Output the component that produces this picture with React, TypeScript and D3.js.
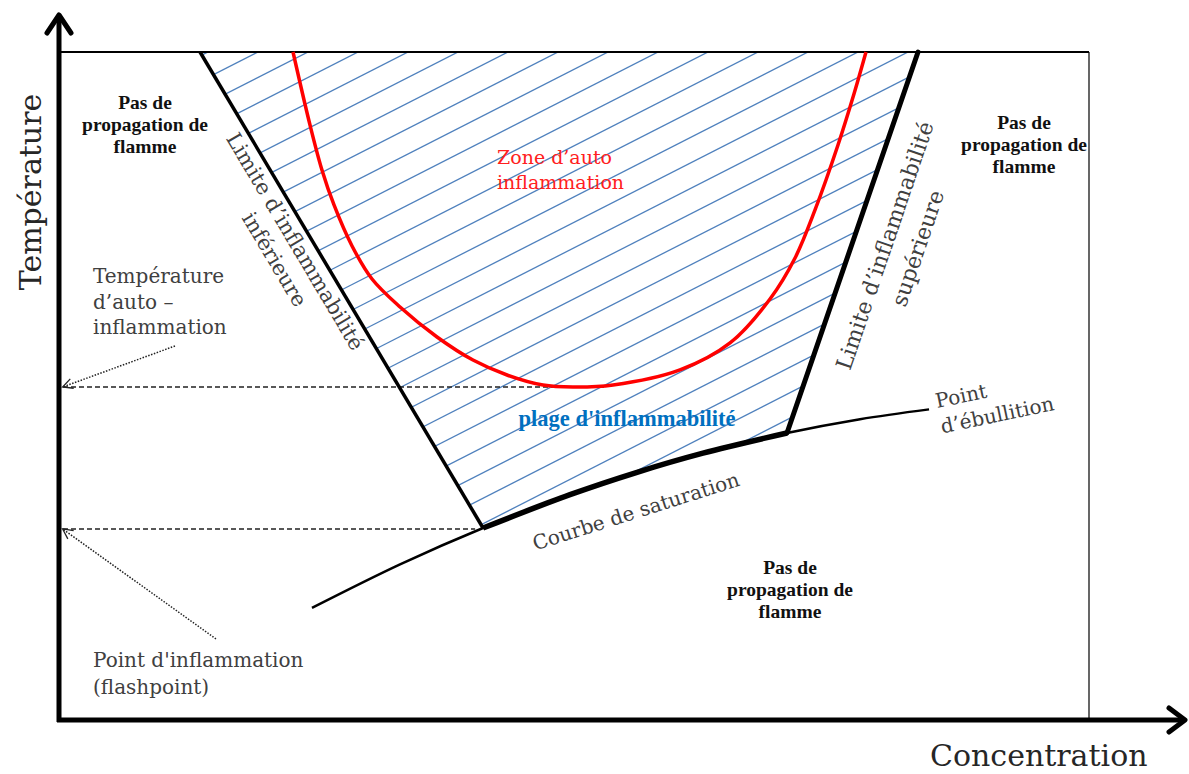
import React from "react";
import * as d3 from "d3";

// Abstract units: concentration 0–100 (x), temperature 0–100 (y)
type P = [number, number];

const lowerLimit: P[] = [[13.69, 100], [41.17, 28.74]];
const upperLimit: P[] = [[83.4, 100], [70.68, 42.96]];
const saturationCurve: P[] = [
  [24.56, 16.77], [33.11, 23.29], [41.17, 28.74], [49.61, 33.73], [56.12, 37.08],
  [62.52, 39.94], [70.68, 42.96], [77.77, 45.03], [84.47, 46.5],
];
const flammableSaturation: P[] = saturationCurve.slice(2, 7);
const autoIgnitionCurve: P[] = [
  [22.72, 100], [24.37, 89.07], [25.53, 82.34], [26.7, 77.1], [28.45, 70.96],
  [30.39, 66.02], [33.11, 61.83], [36.7, 57.34], [40.19, 53.89], [43.5, 51.65],
  [46.99, 50.15], [49.9, 49.85], [53.79, 50.15], [60.29, 52.4], [65.15, 56.44],
  [69.03, 63.02], [71.46, 69.16], [73.4, 76.35], [75.63, 86.08], [77.18, 93.71],
  [78.35, 100],
];
const autoIgnitionTemp = 49.85;
const flashPointTemp = 28.6;
const autoIgnitionDashEnd = 53.2;
const flashPointDashEnd = 40.4;
const autoIgnitionPointer: P[] = [[11.26, 55.99], [0.35, autoIgnitionTemp]];
const flashPointPointer: P[] = [[15.24, 12.13], [0.35, flashPointTemp]];

const SERIF = "'DejaVu Serif', serif";
const BOLD = "'Liberation Serif', serif";

export default function App() {
  const W = 1189, H = 774;
  const x = d3.scaleLinear().domain([0, 100]).range([59, 1089]);
  const y = d3.scaleLinear().domain([0, 100]).range([720, 52]);
  const line = d3.line<P>().x((d) => x(d[0])).y((d) => y(d[1]));
  const smooth = d3
    .line<P>()
    .x((d) => x(d[0]))
    .y((d) => y(d[1]))
    .curve(d3.curveCatmullRom.alpha(0.5));

  const satSeg = smooth(flammableSaturation) || "";
  const region =
    `M${x(lowerLimit[0][0])},${y(lowerLimit[0][1])}` +
    satSeg.replace(/^M/, "L") +
    `L${x(upperLimit[0][0])},${y(upperLimit[0][1])}Z`;

  // hatch lines (style pattern)
  const slope = 0.51;
  const hatch = d3.range(-8, 28).map((k) => {
    const x0 = 408 + 50 * k;
    return { x1: x0 - 2000, y1: 52 + slope * 2000, x2: x0 + 2000, y2: 52 - slope * 2000 };
  });

  const grey = "#404040";
  const axisC = "#000";

  return (
    <svg width={W} height={H} style={{ position: "absolute", left: 0, top: 0, background: "#fff" }}>
      <defs>
        <clipPath id="flam">
          <path d={region} />
        </clipPath>
        <marker id="chev" markerUnits="userSpaceOnUse" viewBox="-12 -8 14 16" markerWidth={14} markerHeight={16}
          refX={0} refY={0} orient="auto" overflow="visible">
          <path d="M-10,-5 L0,0 L-10,5" fill="none" stroke="#222" strokeWidth={1.3} />
        </marker>
      </defs>
      <rect x={0} y={0} width={W} height={H} fill="#fff" />

      {/* hatch */}
      <g clipPath="url(#flam)">
        {hatch.map((h, i) => (
          <line key={i} x1={h.x1} y1={h.y1} x2={h.x2} y2={h.y2} stroke="#4f81bd" strokeWidth={1.3} />
        ))}
      </g>

      {/* frame */}
      <line x1={x(0)} y1={y(100)} x2={x(100)} y2={y(100)} stroke="#000" strokeWidth={2} />
      <line x1={x(100)} y1={y(100)} x2={x(100)} y2={y(0)} stroke="#000" strokeWidth={1.2} />

      {/* dashed reference lines */}
      <line x1={x(0) + 4} y1={y(autoIgnitionTemp)} x2={x(autoIgnitionDashEnd)} y2={y(autoIgnitionTemp)}
        stroke="#222" strokeWidth={1.4} strokeDasharray="5,3" />
      <line x1={x(0) + 4} y1={y(flashPointTemp)} x2={x(flashPointDashEnd)} y2={y(flashPointTemp)}
        stroke="#222" strokeWidth={1.4} strokeDasharray="5,3" />

      {/* dotted pointers */}
      <path d={line(autoIgnitionPointer) || ""} fill="none" stroke="#222" strokeWidth={1.5}
        strokeDasharray="1.5,1.5" markerEnd="url(#chev)" />
      <path d={line(flashPointPointer) || ""} fill="none" stroke="#222" strokeWidth={1.5}
        strokeDasharray="1.5,1.5" markerEnd="url(#chev)" />

      {/* saturation curve */}
      <path d={smooth(saturationCurve) || ""} fill="none" stroke="#000" strokeWidth={2.5} />
      <path d={satSeg} fill="none" stroke="#000" strokeWidth={5.5} />

      {/* flammability limits */}
      <path d={line(lowerLimit) || ""} fill="none" stroke="#000" strokeWidth={3.5} />
      <path d={line(upperLimit) || ""} fill="none" stroke="#000" strokeWidth={5} strokeLinecap="round" />

      {/* auto-ignition curve */}
      <path d={smooth(autoIgnitionCurve) || ""} fill="none" stroke="#ff0000" strokeWidth={3.5} />

      {/* axes */}
      <line x1={x(0)} y1={y(0) + 2} x2={x(0)} y2={16} stroke={axisC} strokeWidth={5} />
      <path d={`M${x(0) - 12},33 L${x(0)},15 L${x(0) + 12},33`} fill="none" stroke={axisC} strokeWidth={5}
        strokeLinecap="round" strokeLinejoin="round" />
      <line x1={x(0) - 2} y1={y(0)} x2={1184} y2={y(0)} stroke={axisC} strokeWidth={5} />
      <path d={`M1169,${y(0) - 12} L1185,${y(0)} L1169,${y(0) + 12}`} fill="none" stroke={axisC} strokeWidth={5}
        strokeLinecap="round" strokeLinejoin="round" />

      {/* axis titles */}
      <text transform="translate(41,192) rotate(-90)" textAnchor="middle" fontFamily={SERIF} fontSize={30} fill="#262626">
        Température
      </text>
      <text x={930} y={766} fontFamily={SERIF} fontSize={30} fill="#262626">Concentration</text>

      {/* region labels */}
      {[
        { cx: 145, by: 109 },
        { cx: 1024, by: 129 },
        { cx: 790, by: 574 },
      ].map((p, i) => (
        <text key={i} x={p.cx} y={p.by} textAnchor="middle" fontFamily={BOLD} fontWeight="bold" fontSize={19.5} fill="#111">
          <tspan x={p.cx} dy={0}>Pas de</tspan>
          <tspan x={p.cx} dy={22}>propagation de</tspan>
          <tspan x={p.cx} dy={22}>flamme</tspan>
        </text>
      ))}

      <text x={497} y={164} fontFamily={SERIF} fontSize={19} fill="#ff2020">
        <tspan x={497} dy={0}>Zone d’auto</tspan>
        <tspan x={497} dy={25}>inflammation</tspan>
      </text>

      <text x={627} y={426} textAnchor="middle" fontFamily={BOLD} fontWeight="bold" fontSize={22.5} fill="#0070c0">
        plage d'inflammabilité
      </text>

      <text x={93} y={283} fontFamily={SERIF} fontSize={20} fill={grey}>
        <tspan x={93} dy={0}>Température</tspan>
        <tspan x={93} dy={25.5}>d’auto –</tspan>
        <tspan x={93} dy={25.5}>inflammation</tspan>
      </text>

      <text x={93} y={667} fontFamily={SERIF} fontSize={20} fill={grey}>
        <tspan x={93} dy={0}>Point d'inflammation</tspan>
        <tspan x={93} dy={27}>(flashpoint)</tspan>
      </text>

      <g transform="translate(289,245) rotate(59.3)" fontFamily={SERIF} fontSize={21} fill={grey} textAnchor="middle">
        <text x={0} y={0}>Limite d’inflammabilité</text>
        <text x={5} y={27}>inférieure</text>
      </g>

      <g transform="translate(892,248) rotate(-71.2)" fontFamily={SERIF} fontSize={22} fill={grey} textAnchor="middle">
        <text x={0} y={0}>Limite d’inflammabilité</text>
        <text x={8} y={32}>supérieure</text>
      </g>

      <text transform="translate(638,518) rotate(-17.6)" textAnchor="middle" fontFamily={SERIF} fontSize={20} fill={grey}>
        Courbe de saturation
      </text>

      <g transform="translate(937,408) rotate(-11.8)" fontFamily={SERIF} fontSize={20} fill={grey}>
        <text x={0} y={0}>Point</text>
        <text x={0} y={26}>d’ébullition</text>
      </g>
    </svg>
  );
}
